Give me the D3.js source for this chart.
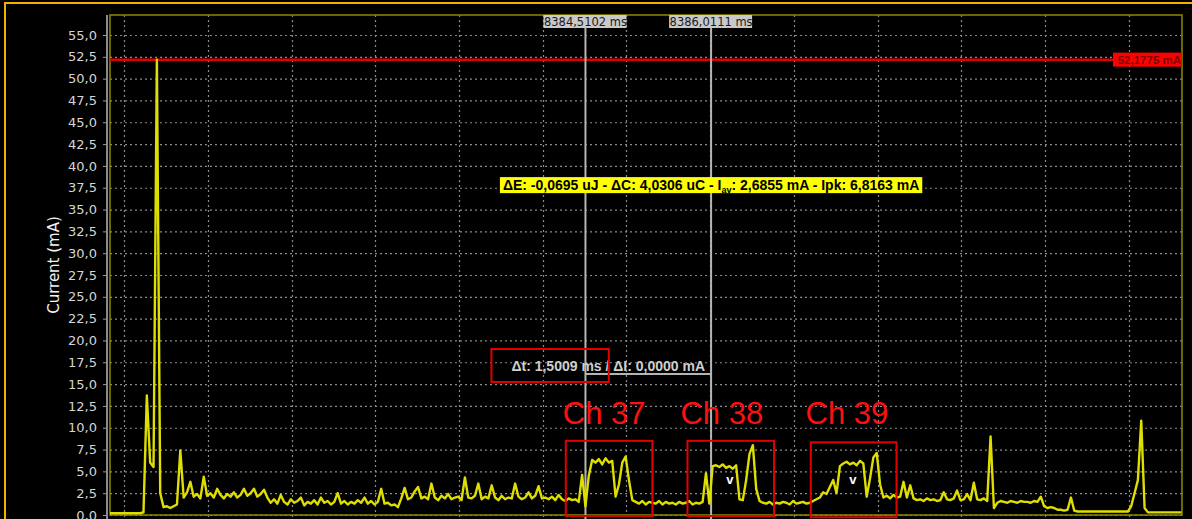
<!DOCTYPE html>
<html>
<head>
<meta charset="utf-8">
<script src="https://cdn.jsdelivr.net/npm/d3@7"></script>
<style>
  body { margin: 0; background: #000; overflow: hidden; }
  svg { display: block; }
</style>
</head>
<body>
<div id="chart"></div>
<script>
// sampled current trace (mA), one sample every samplePeriodMs
const sampleStartMs = 8378.83;
const samplePeriodMs = 0.04;
const currentMa = [
  0.2,0.2,0.2,0.2,0.2,0.2,0.2,0.2,0.2,0.2,
  0.3,13.7,6.0,5.5,52.18,2.5,0.9,1.0,0.8,1.0,
  1.2,7.4,2.0,2.6,3.8,2.1,2.4,1.9,4.4,2.2,
  2.5,2.0,3.0,2.3,1.9,2.4,2.1,2.6,2.0,2.3,
  3.0,2.2,2.5,3.0,2.1,2.4,2.9,2.0,1.4,1.8,
  1.3,2.3,1.5,1.2,1.8,1.4,1.6,2.0,1.1,1.5,
  1.3,1.7,1.2,2.0,1.4,1.6,1.2,1.5,2.5,1.3,
  1.6,1.2,1.5,1.3,1.7,1.4,2.0,1.3,1.6,1.2,
  1.5,3.0,1.3,1.4,1.1,1.2,0.9,1.9,3.1,1.8,
  2.0,2.7,3.2,1.9,2.1,1.8,3.6,2.0,1.7,2.2,
  1.9,2.4,1.8,2.0,2.1,1.7,4.3,2.0,1.9,2.2,
  3.6,1.8,2.1,1.9,3.4,2.0,1.7,2.2,1.8,2.0,
  1.9,3.6,2.1,1.8,2.0,2.6,1.9,2.2,3.3,1.9,
  2.0,1.8,2.1,1.7,2.3,1.8,1.6,1.9,1.7,1.8,
  1.5,4.6,1.0,4.5,6.3,6.0,6.4,5.8,6.5,6.0,
  6.2,2.1,3.5,6.0,6.7,4.0,1.7,1.5,1.3,1.6,
  1.2,1.5,1.4,1.3,1.6,1.2,1.5,1.3,1.4,1.2,
  1.5,1.3,1.4,1.6,1.2,1.4,1.3,1.5,4.8,1.3,
  5.6,5.7,5.5,5.8,5.4,5.6,5.3,5.7,1.8,1.7,
  4.0,7.0,8.0,3.0,1.6,1.4,1.3,1.5,1.2,1.4,
  1.3,1.5,1.4,1.2,1.6,1.3,1.4,1.5,1.3,1.4,
  1.6,1.8,2.0,2.6,2.4,3.2,4.0,2.5,5.6,5.9,
  6.1,5.8,6.0,5.7,6.2,5.9,2.1,4.2,6.6,7.1,
  3.5,2.0,2.2,1.9,2.3,2.0,2.1,3.8,2.0,3.4,
  1.9,1.7,1.8,1.6,1.9,1.7,1.8,1.6,1.7,2.6,
  1.8,1.7,1.9,2.8,1.7,1.8,2.4,1.7,3.7,1.8,
  1.7,1.9,1.6,9.0,0.8,1.4,1.6,1.5,1.4,1.6,
  1.5,1.4,1.6,1.5,1.5,1.4,1.6,1.5,2.1,1.0,
  0.8,0.9,0.8,0.6,0.6,0.5,0.6,2.0,0.5,0.4,
  0.4,0.4,0.4,0.4,0.4,0.4,0.4,0.4,0.4,0.4,
  0.4,0.4,0.4,0.4,0.4,1.0,2.5,4.0,10.8,0.8,
  0.3,0.3,0.3,0.3,0.3,0.3,0.3,0.3,0.3,0.3,0.3
];

const yTickValues = [0,2.5,5,7.5,10,12.5,15,17.5,20,22.5,25,27.5,30,32.5,35,37.5,40,42.5,45,47.5,50,52.5,55];
const xGridMs = [8379,8380,8381,8382,8383,8384,8385,8386,8387,8388,8389,8390,8391];

const cursorMs = [8384.5102, 8386.0111];
const limitMa = 52.1775;
const measureParts = ["ΔE: -0,0695 uJ - ΔC: 4,0306 uC - I", "av", ": 2,6855 mA - Ipk: 6,8163 mA"];
const measureMa = 37.8;
const deltaText = "Δt: 1,5009 ms / ΔI: 0,0000 mA";
const deltaMa = 17.0;

// hand drawn annotations
const channelNames = ["Ch 37", "Ch 38", "Ch 39"];
const channelStartMs = [8384.275, 8385.729, 8387.202];
const channelEndMs = [8385.31, 8386.763, 8388.226];
const channelTopMa = [8.5, 8.5, 8.33];
const channelBottomMa = [-0.11, -0.12, -0.26];
const channelLabelMs = [8384.24, 8385.645, 8387.14];
const channelLabelMa = 10.43;
const vMarkMs = [8386.234, 8387.704];
const vMarkMa = 3.5;
const deltaBox = { startMs: 8383.387, endMs: 8384.789, topMa: 19.02, bottomMa: 15.24 };

const W = 1192, H = 519;

const comma = f => v => f(v).replace(".", ",");
const fmt1 = comma(d3.format(".1f"));
const fmt4 = comma(d3.format(".4f"));

const svg = d3.select("#chart").append("svg")
  .attr("width", W)
  .attr("height", H)
  .style("background", "#000");

// outer orange frame
svg.append("line").attr("x1", 4).attr("x2", W).attr("y1", 3).attr("y2", 3)
  .attr("stroke", "#f2b000").attr("stroke-width", 2);
svg.append("line").attr("x1", 5).attr("x2", 5).attr("y1", 3).attr("y2", H)
  .attr("stroke", "#f2b000").attr("stroke-width", 2);

var x = d3.scaleLinear()
  .domain([8378.83, 8391.637])
  .range([110, 1182]);
var y = d3.scaleLinear()
  .domain([0, 55])
  .range([515, 35]);

svg.append("defs").append("clipPath").attr("id", "plotClip")
  .append("rect").attr("x", 110).attr("y", 15).attr("width", 1072).attr("height", 504);

// grid
svg.append("g").selectAll("line")
  .data(yTickValues)
  .enter().append("line")
  .attr("x1", 110).attr("x2", 1182)
  .attr("y1", d => y(d) + 0.5).attr("y2", d => y(d) + 0.5)
  .attr("stroke", "#8a8a8a").attr("stroke-width", 1.2)
  .attr("stroke-dasharray", "2,3");

svg.append("g").selectAll("line")
  .data(xGridMs)
  .enter().append("line")
  .attr("x1", d => Math.round(x(d)) + 0.5).attr("x2", d => Math.round(x(d)) + 0.5)
  .attr("y1", 15).attr("y2", 519)
  .attr("stroke", "#8a8a8a").attr("stroke-width", 1.2)
  .attr("stroke-dasharray", "2,3");

// y axis
var yAxis = d3.axisLeft(y).tickValues(yTickValues).tickFormat(fmt1).tickSize(4).tickPadding(6);
var yg = svg.append("g")
  .attr("transform", "translate(107,0)")
  .call(yAxis);
yg.select(".domain").attr("stroke", "#8a8a8a").attr("stroke-width", 2)
  .attr("d", "M0,15V519");
yg.selectAll(".tick line").attr("stroke", "#9a9a9a");
yg.selectAll(".tick text")
  .attr("fill", "#d6d6d6")
  .style("font-family", "DejaVu Sans")
  .style("font-size", "13px");

svg.append("text")
  .attr("transform", "translate(59,265) rotate(-90)")
  .attr("text-anchor", "middle")
  .attr("fill", "#f2f2f2")
  .style("font-family", "DejaVu Sans")
  .style("font-size", "15px")
  .text("Current (mA)");

// plot frame
svg.append("rect")
  .attr("x", 110).attr("y", 15).attr("width", 1072).attr("height", 500)
  .attr("fill", "none").attr("stroke", "#8c8c00").attr("stroke-width", 1.5);

// limit line
svg.append("line")
  .attr("x1", 110).attr("x2", 1182)
  .attr("y1", y(limitMa)).attr("y2", y(limitMa))
  .attr("stroke", "#e00000").attr("stroke-width", 2.5);

// cursors
svg.append("g").selectAll("line")
  .data(cursorMs)
  .enter().append("line")
  .attr("x1", d => x(d)).attr("x2", d => x(d))
  .attr("y1", 28).attr("y2", 519)
  .attr("stroke", "#b4b4b4").attr("stroke-width", 2);

// trace
var line = d3.line()
  .x((d, i) => x(sampleStartMs + i * samplePeriodMs))
  .y(d => y(d));

svg.append("path")
  .datum(currentMa)
  .attr("clip-path", "url(#plotClip)")
  .attr("fill", "none")
  .attr("stroke", "#dede00")
  .attr("stroke-width", 2.4)
  .attr("stroke-linejoin", "round")
  .attr("d", line);

// cursor labels
var cl = svg.append("g").selectAll("g")
  .data(cursorMs)
  .enter().append("g")
  .attr("transform", d => "translate(" + x(d) + ",15)");
cl.append("rect")
  .attr("x", -42).attr("y", 0).attr("width", 83).attr("height", 13)
  .attr("fill", "#c9c9c9");
cl.append("text")
  .attr("x", 0).attr("y", 10.5)
  .attr("text-anchor", "middle")
  .attr("fill", "#1a1a1a")
  .style("font-family", "DejaVu Sans")
  .style("font-size", "11.5px")
  .text(d => fmt4(d) + " ms");

// limit label
svg.append("rect")
  .attr("x", 1113).attr("y", y(limitMa) - 7).attr("width", 69).attr("height", 14)
  .attr("fill", "#ff0000");
svg.append("text")
  .attr("x", 1181).attr("y", y(limitMa) + 4.5)
  .attr("text-anchor", "end")
  .attr("fill", "#7a0000")
  .style("font-family", "Liberation Sans")
  .style("font-weight", "bold")
  .style("font-size", "11.5px")
  .text(fmt4(limitMa) + " mA");

// measurement box
var mg = svg.append("g");
var mbox = mg.append("rect").attr("fill", "#ffff00");
var mt = mg.append("text")
  .attr("x", x(cursorMs[1])).attr("y", y(measureMa) + 5)
  .attr("text-anchor", "middle")
  .attr("fill", "#000")
  .style("font-family", "Liberation Sans")
  .style("font-weight", "bold")
  .style("font-size", "14px");
mt.append("tspan").text(measureParts[0]);
mt.append("tspan").attr("dy", 3).style("font-size", "9px").text(measureParts[1]);
mt.append("tspan").attr("dy", -3).text(measureParts[2]);
var bb = mt.node().getBBox();
mbox.attr("x", bb.x - 3).attr("y", y(measureMa) - 8).attr("width", bb.width + 6).attr("height", 16);

// delta line and text
svg.append("line")
  .attr("x1", x(cursorMs[0])).attr("x2", x(cursorMs[1]))
  .attr("y1", 374).attr("y2", 374)
  .attr("stroke", "#b4b4b4").attr("stroke-width", 2);
svg.append("text")
  .attr("x", x(cursorMs[1]) - 6).attr("y", y(deltaMa) + 4)
  .attr("text-anchor", "end")
  .attr("fill", "#cfcfcf")
  .style("font-family", "Liberation Sans")
  .style("font-weight", "bold")
  .style("font-size", "14px")
  .text(deltaText);

svg.append("rect")
  .attr("x", x(deltaBox.startMs)).attr("y", y(deltaBox.topMa))
  .attr("width", x(deltaBox.endMs) - x(deltaBox.startMs))
  .attr("height", y(deltaBox.bottomMa) - y(deltaBox.topMa))
  .attr("fill", "none").attr("stroke", "#e00000").attr("stroke-width", 2);

// channel annotations
svg.append("g").selectAll("rect")
  .data(channelNames)
  .enter().append("rect")
  .attr("x", (d, i) => x(channelStartMs[i]))
  .attr("y", (d, i) => y(channelTopMa[i]))
  .attr("width", (d, i) => x(channelEndMs[i]) - x(channelStartMs[i]))
  .attr("height", (d, i) => y(channelBottomMa[i]) - y(channelTopMa[i]))
  .attr("fill", "none").attr("stroke", "#e00000").attr("stroke-width", 2);

svg.append("g").selectAll("text")
  .data(channelNames)
  .enter().append("text")
  .attr("x", (d, i) => x(channelLabelMs[i]))
  .attr("y", y(channelLabelMa))
  .attr("fill", "#ff1010")
  .style("font-family", "Liberation Sans")
  .style("font-size", "31px")
  .text(d => d);

svg.append("g").selectAll("text")
  .data(vMarkMs)
  .enter().append("text")
  .attr("x", d => x(d))
  .attr("y", y(vMarkMa))
  .attr("text-anchor", "middle")
  .attr("fill", "#ffffff")
  .style("font-family", "Liberation Sans")
  .style("font-weight", "bold")
  .style("font-size", "13px")
  .text("v");
</script>
</body>
</html>
